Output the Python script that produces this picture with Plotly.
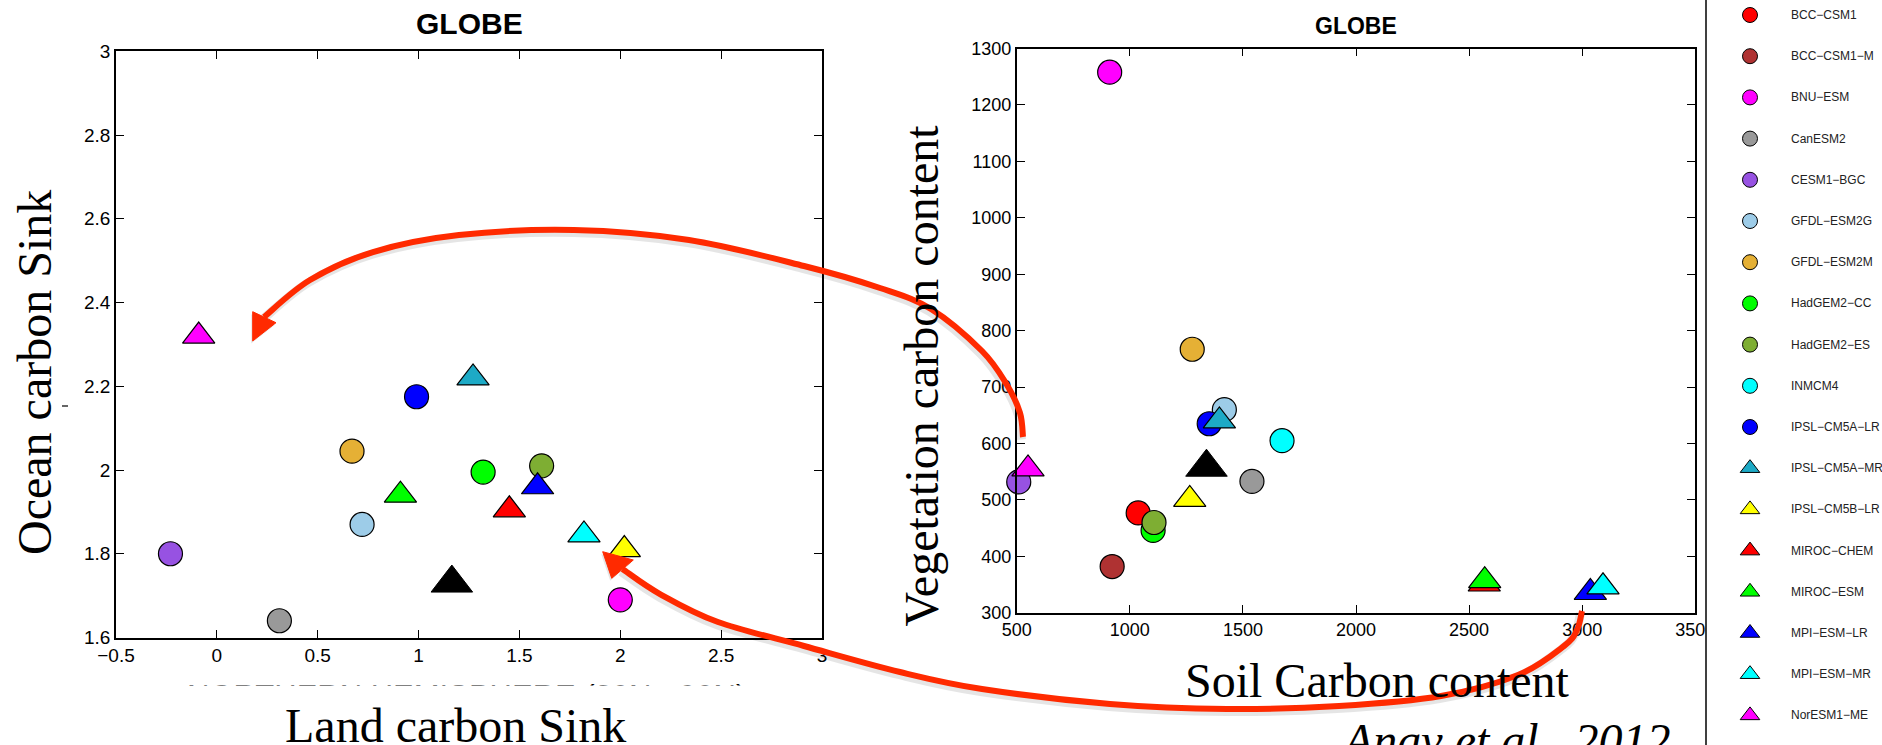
import plotly.graph_objects as go

W, H = 1882, 745

# ---- data -------------------------------------------------------------
models = ["BCC-CSM1", "BCC-CSM1-M", "BNU-ESM", "CanESM2", "CESM1-BGC",
          "GFDL-ESM2G", "GFDL-ESM2M", "HadGEM2-CC", "HadGEM2-ES", "INMCM4",
          "IPSL-CM5A-LR", "IPSL-CM5A-MR", "IPSL-CM5B-LR", "MIROC-CHEM",
          "MIROC-ESM", "MPI-ESM-LR", "MPI-ESM-MR", "NorESM1-ME"]
symbols = ["circle"] * 11 + ["triangle-up"] * 7
colors = ["#ff0000", "#af3232", "#ff00ff", "#999999", "#9752e2",
          "#9dcce8", "#e5b035", "#00ff00", "#7eae33", "#00ffff",
          "#0000ff", "#1daac6", "#ffff00", "#ff0000",
          "#00ff00", "#0000ff", "#00ffff", "#ff00ff"]

# Global land vs ocean carbon sink (PgC/yr)
land_sink = [None, None, 2.00, 0.31, -0.23, 0.72, 0.67, 1.32, 1.61, None,
             0.99, 1.27, 2.02, 1.45, 0.91, 1.59, 1.82, -0.09]
ocean_sink = [None, None, 1.69, 1.64, 1.80, 1.87, 2.045, 1.995, 2.01, None,
              2.175, 2.22, 1.81, 1.905, 1.94, 1.96, 1.845, 2.32]

# Global soil vs vegetation carbon content (PgC)
soil_carbon = [1037, 922, 911, 1540, 509, 1418, 1276, 1103, 1107, 1673,
               1351, 1396, 1265, 2567, 2569, 3036, 3092, 550]
veg_carbon = [477, 382, 1258, 533, 532, 660, 767, 446, 460, 605,
              635, 640, 501, 351, 357, 336, 346, 555]

# multi-model mean
mean_land, mean_ocean = [1.165], [1.73]
mean_soil, mean_veg = [1339], [558]

# ---- helpers ----------------------------------------------------------
def fx(x):
    return x / W


def fy(y):
    return 1 - y / H


def pt(x, y):
    return f"{fx(x):.5f},{fy(y):.5f}"


def smooth_path(pts):
    d = "M" + pt(*pts[0])
    n = len(pts)
    for i in range(n - 1):
        p0 = pts[i - 1] if i > 0 else pts[i]
        p1, p2 = pts[i], pts[i + 1]
        p3 = pts[i + 2] if i + 2 < n else p2
        c1 = (p1[0] + (p2[0] - p0[0]) / 6, p1[1] + (p2[1] - p0[1]) / 6)
        c2 = (p2[0] - (p3[0] - p1[0]) / 6, p2[1] - (p3[1] - p1[1]) / 6)
        d += " C" + pt(*c1) + " " + pt(*c2) + " " + pt(*p2)
    return d


def poly_path(pts):
    return "M" + " L".join(pt(*p) for p in pts) + " Z"


sizes = [24 if s == "circle" else 28 for s in symbols]
leg_sizes = [15 if s == "circle" else 17 for s in symbols]

fig = go.Figure()

fig.add_trace(go.Scatter(
    x=land_sink, y=ocean_sink, mode="markers", xaxis="x", yaxis="y",
    cliponaxis=False, text=models,
    marker=dict(color=colors, symbol=symbols, size=sizes, opacity=1,
                line=dict(color="black", width=1.2))))
fig.add_trace(go.Scatter(
    x=mean_land, y=mean_ocean, mode="markers", xaxis="x", yaxis="y",
    cliponaxis=False, name="Multi-model mean",
    marker=dict(color="black", symbol="triangle-up", size=36, opacity=1,
                line=dict(color="black", width=1))))

fig.add_trace(go.Scatter(
    x=soil_carbon, y=veg_carbon, mode="markers", xaxis="x2", yaxis="y2",
    cliponaxis=False, text=models,
    marker=dict(color=colors, symbol=symbols, size=sizes, opacity=1,
                line=dict(color="black", width=1.2))))
fig.add_trace(go.Scatter(
    x=mean_soil, y=mean_veg, mode="markers", xaxis="x2", yaxis="y2",
    cliponaxis=False, name="Multi-model mean",
    marker=dict(color="black", symbol="triangle-up", size=36, opacity=1,
                line=dict(color="black", width=1))))

# legend column
leg_rows = list(range(len(models)))
fig.add_trace(go.Scatter(
    x=[0.25] * len(models), y=leg_rows, mode="markers", xaxis="x3", yaxis="y3",
    cliponaxis=False, text=models,
    marker=dict(color=colors, symbol=symbols, size=leg_sizes, opacity=1,
                line=dict(color="black", width=1))))

tick_font = dict(family="Liberation Sans, Arial, sans-serif", color="black")
axis_common = dict(showline=True, linecolor="black", linewidth=1.8,
                   mirror="ticks", ticks="inside", ticklen=8, tickwidth=1.4,
                   tickcolor="black", showgrid=False, zeroline=False,
                   fixedrange=True, automargin=False)

fig.update_layout(
    template="none",
    width=W, height=H, margin=dict(l=0, r=0, t=0, b=0, pad=0, autoexpand=False),
    paper_bgcolor="white", plot_bgcolor="rgba(0,0,0,0)", showlegend=False,
    xaxis=dict(domain=[fx(116), fx(822)], range=[-0.5, 3], tick0=0, dtick=0.5,
               anchor="y", tickfont=dict(size=19, **tick_font), **axis_common),
    yaxis=dict(domain=[fy(637.5), fy(51.3)], range=[1.6, 3], tick0=0, dtick=0.2,
               anchor="x", tickfont=dict(size=19, **tick_font), **axis_common),
    xaxis2=dict(domain=[fx(1016.7), fx(1695.3)], range=[500, 3500], tick0=0,
                dtick=500, anchor="y2", tickfont=dict(size=18, **tick_font),
                **axis_common),
    yaxis2=dict(domain=[fy(612.8), fy(48.5)], range=[300, 1300], tick0=0,
                dtick=100, anchor="x2", tickfont=dict(size=18, **tick_font),
                **axis_common),
    xaxis3=dict(domain=[fx(1706), 1], range=[0, 1], visible=False,
                fixedrange=True, automargin=False, anchor="y3"),
    yaxis3=dict(domain=[0, 1], range=[(H - 15) / 41.2, -15 / 41.2],
                visible=False, fixedrange=True, anchor="x3", automargin=False),
)

serif = "Liberation Serif, Times New Roman, serif"
sans = "Liberation Sans, Arial, sans-serif"


def label(text, x, y, size, family, angle=0, **kw):
    return dict(text=text, x=fx(x), y=fy(y), xref="paper", yref="paper",
                xanchor="center", yanchor="middle", showarrow=False,
                textangle=angle, font=dict(family=family, size=size,
                                           color="black"), **kw)


annotations = [
    # hemisphere caption, mostly hidden under the white strip that follows
    label("NORTHERN HEMISPHERE (30N - 90N)", 466, 696, 31, sans),
    dict(text=" ", x=fx(466), y=fy(684.5), xref="paper", yref="paper",
         xanchor="center", yanchor="top", showarrow=False, width=660,
         height=34, bgcolor="white", borderpad=0,
         font=dict(family=sans, size=10, color="white")),
    label("<b>GLOBE</b>", 469, 24, 30, sans),
    label("<b>GLOBE</b>", 1356, 25.5, 23, sans),
    label("Ocean carbon Sink", 34, 373, 48, serif, angle=-90),
    label("Land carbon Sink", 455, 725, 48, serif),
    label("Vegetation carbon content", 921, 375.5, 48, serif, angle=-90),
    label("Soil Carbon content", 1377, 680, 48, serif),
    label("<i>Anav et al., 2012</i>", 1506, 740, 48, serif),
]
for i, m in enumerate(models):
    annotations.append(dict(
        text=m.replace("-", "\u2212"), x=0.47, y=i, xref="x3", yref="y3",
        xanchor="left", yanchor="middle", showarrow=False,
        font=dict(family=sans, size=12, color="#222222")))
fig.update_layout(annotations=annotations)

red = "#ff2a00"
shadow = "rgba(0,0,0,0.10)"

arrow1 = [(1023, 437), (1020, 413), (1007, 385), (982, 351), (931, 309),
          (880, 288), (804, 266), (689, 240), (574, 230), (459, 235),
          (373, 252), (310, 280), (264, 317)]
head1 = [(252.7, 341), (252.7, 311.7), (276, 322.7)]
arrow2 = [(1582, 611), (1577, 630), (1564, 646), (1518, 675), (1441, 696),
          (1339, 706), (1227, 709), (1110, 704), (982, 689), (900, 672),
          (804, 646), (718, 622), (660, 594), (622.5, 569)]
head2 = [(602.7, 551.7), (611.7, 578.3), (633.3, 560)]


def shifted(pts, dx, dy):
    return [(x + dx, y + dy) for x, y in pts]


shapes = [
    # small white patch where the legend panel overlaps the last tick label
    dict(type="rect", xref="paper", yref="paper", x0=fx(1706), x1=fx(1738),
         y0=fy(645), y1=fy(618), fillcolor="white", line=dict(width=0),
         layer="above"),
    dict(type="line", xref="paper", yref="paper", x0=fx(1706), x1=fx(1706),
         y0=0, y1=1, line=dict(color="black", width=1.5), layer="above"),
    dict(type="line", xref="paper", yref="paper", x0=fx(62), x1=fx(68),
         y0=fy(406), y1=fy(406), line=dict(color="black", width=1.2),
         layer="above"),
]
for path_pts, head in ((arrow1, head1), (arrow2, head2)):
    shapes.append(dict(type="path", xref="paper", yref="paper",
                       path=smooth_path(shifted(path_pts, -1.5, 2.5)),
                       line=dict(color=shadow, width=9), layer="above"))
    shapes.append(dict(type="path", xref="paper", yref="paper",
                       path=poly_path(shifted(head, -1.5, 2.5)),
                       fillcolor=shadow, line=dict(width=0), layer="above"))
for path_pts, head in ((arrow1, head1), (arrow2, head2)):
    shapes.append(dict(type="path", xref="paper", yref="paper",
                       path=smooth_path(path_pts),
                       line=dict(color=red, width=6), layer="above"))
    shapes.append(dict(type="path", xref="paper", yref="paper",
                       path=poly_path(head), fillcolor=red,
                       line=dict(color=red, width=1), layer="above"))
fig.update_layout(shapes=shapes)

fig.write_html("out.html")
